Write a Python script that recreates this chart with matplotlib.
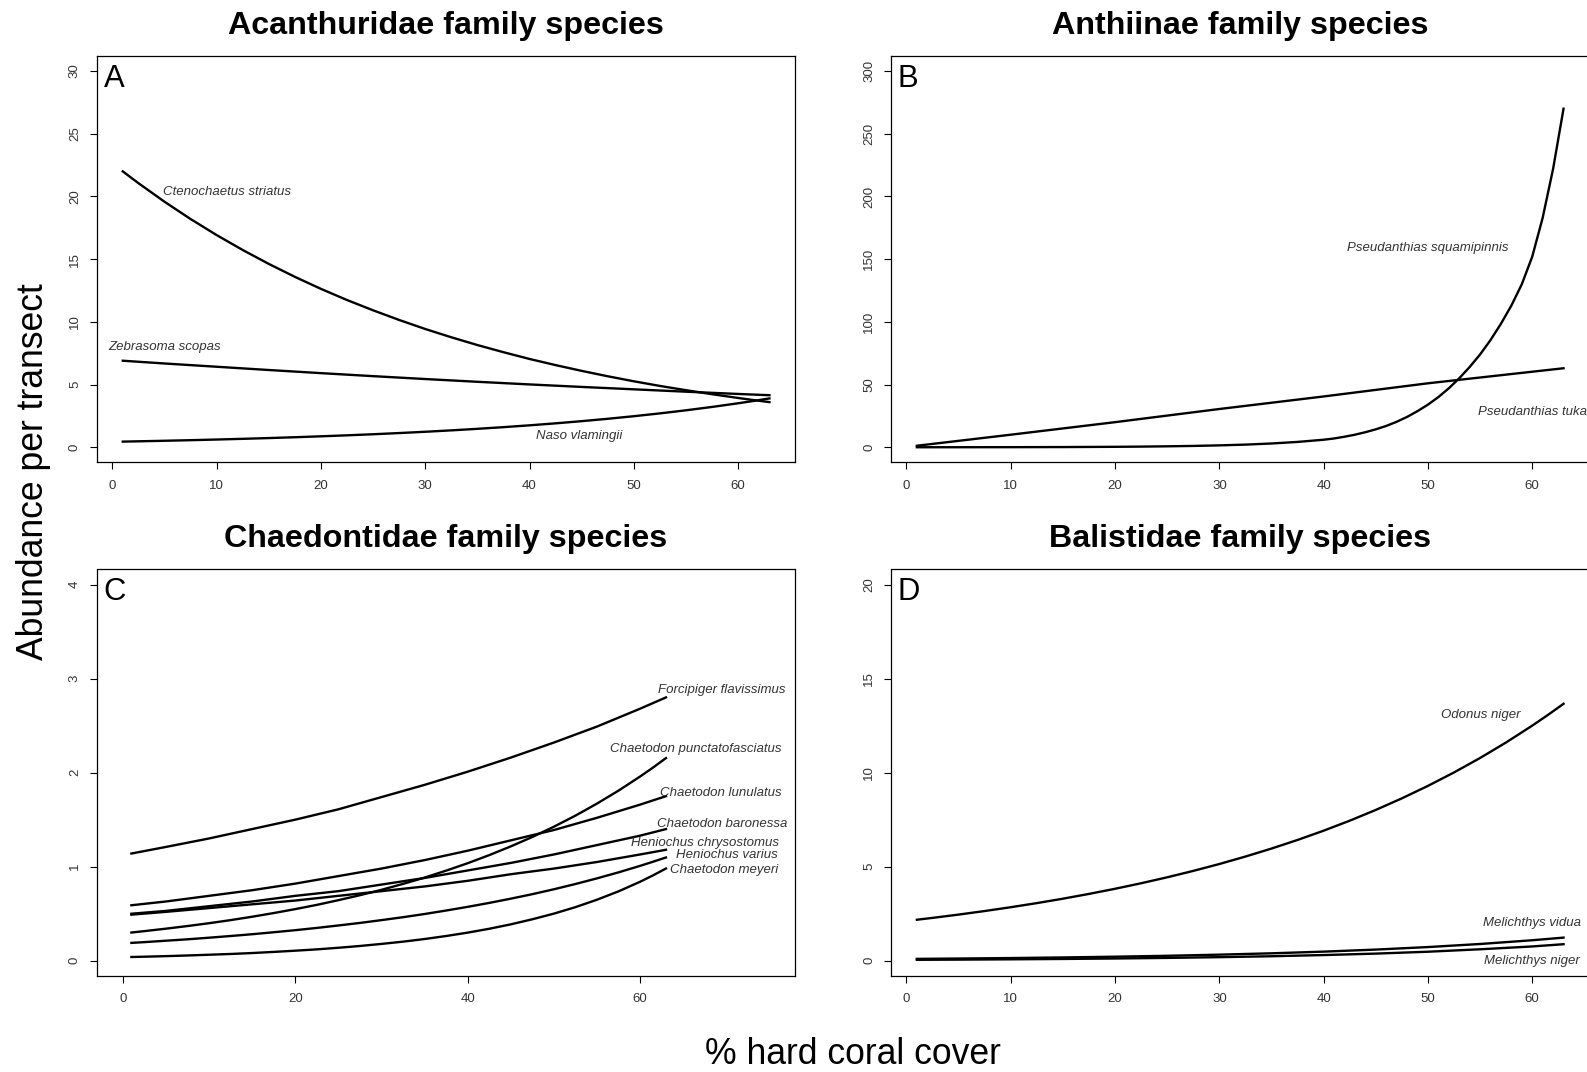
import matplotlib
matplotlib.use("Agg")
import matplotlib.pyplot as plt

plt.rcParams["font.family"] = ["Liberation Sans", "DejaVu Sans"]

# ---- data (fitted abundance per transect vs % hard coral cover) ----
cover = [1, 5, 10, 15, 20, 25, 30, 35, 40, 45, 50, 55, 60, 63]
cover_fine = [1, 2.5, 5, 7.5, 10, 12.5, 15, 17.5, 20, 22.5, 25, 27.5, 30, 32.5, 35,
              37.5, 40, 42.5, 45, 47.5, 50, 52.5, 55, 57.5, 60, 61.5, 63]

# A: Acanthuridae
ctenochaetus_striatus = [22.0, 21.06, 19.58, 18.20, 16.92, 15.73, 14.62, 13.59, 12.63, 11.74,
                         10.92, 10.15, 9.43, 8.77, 8.15, 7.58, 7.04, 6.55, 6.09, 5.66, 5.26,
                         4.89, 4.55, 4.23, 3.93, 3.76, 3.60]
zebrasoma_scopas = [6.9, 6.68, 6.42, 6.16, 5.91, 5.67, 5.44, 5.22, 5.01, 4.81, 4.62, 4.43, 4.25, 4.15]
naso_vlamingii = [0.45, 0.474, 0.517, 0.564, 0.616, 0.672, 0.732, 0.799, 0.872, 0.951, 1.037,
                  1.132, 1.235, 1.347, 1.469, 1.603, 1.748, 1.907, 2.081, 2.270, 2.476, 2.701,
                  2.947, 3.215, 3.507, 3.695, 3.893]

# B: Anthiinae
cover_b = [1, 5, 10, 15, 20, 22.5, 25, 27.5, 30, 32.5, 35, 37.5, 40, 41, 42, 43, 44, 45, 46,
           47, 48, 49, 50, 51, 52, 53, 54, 55, 56, 57, 58, 59, 60, 61, 62, 63]
pseudanthias_squamipinnis = [0.0, 0.02, 0.06, 0.15, 0.35, 0.51, 0.75, 1.06, 1.5, 2.1, 3.0, 4.25,
                             6.0, 7.0, 8.4, 10.0, 12.0, 14.3, 17.0, 20.3, 24.2, 28.8, 34.0, 40.0,
                             47.0, 55.0, 64.0, 74.0, 85.5, 98.5, 113.0, 130.0, 152.0, 183.0,
                             222.0, 270.0]
cover_tuka = [1, 10, 20, 30, 40, 50, 63]
pseudanthias_tuka = [1.2, 10.0, 20.0, 30.5, 40.5, 51.0, 63.0]

# C: Chaetodontidae
forcipiger_flavissimus = [1.14, 1.21, 1.30, 1.40, 1.50, 1.61, 1.74, 1.87, 2.01, 2.16, 2.32, 2.49, 2.68, 2.80]
chaetodon_punctatofasciatus = [0.300, 0.315, 0.341, 0.369, 0.399, 0.432, 0.468, 0.507, 0.549,
                               0.594, 0.644, 0.697, 0.754, 0.817, 0.884, 0.958, 1.037, 1.123,
                               1.216, 1.316, 1.425, 1.543, 1.671, 1.809, 1.959, 2.054, 2.155]
chaetodon_lunulatus = [0.59, 0.63, 0.69, 0.75, 0.82, 0.90, 0.98, 1.07, 1.17, 1.28, 1.39, 1.52, 1.66, 1.75]
chaetodon_baronessa = [0.50, 0.53, 0.58, 0.63, 0.69, 0.74, 0.81, 0.88, 0.96, 1.04, 1.13, 1.23, 1.33, 1.40]
heniochus_chrysostomus = [0.49, 0.52, 0.56, 0.60, 0.64, 0.69, 0.74, 0.79, 0.85, 0.92, 0.98, 1.05, 1.13, 1.18]
heniochus_varius = [0.190, 0.198, 0.213, 0.228, 0.245, 0.263, 0.282, 0.303, 0.325, 0.349, 0.375,
                    0.402, 0.432, 0.463, 0.497, 0.534, 0.573, 0.615, 0.660, 0.708, 0.760, 0.816,
                    0.876, 0.940, 1.009, 1.053, 1.098]
chaetodon_meyeri = [0.040, 0.043, 0.049, 0.056, 0.064, 0.072, 0.082, 0.094, 0.107, 0.121, 0.138,
                    0.157, 0.179, 0.203, 0.231, 0.263, 0.299, 0.340, 0.387, 0.441, 0.501, 0.570,
                    0.649, 0.738, 0.840, 0.908, 0.981]

# D: Balistidae
odonus_niger = [2.180, 2.279, 2.454, 2.643, 2.846, 3.064, 3.299, 3.553, 3.826, 4.120, 4.436,
                4.777, 5.143, 5.539, 5.964, 6.422, 6.915, 7.446, 8.018, 8.634, 9.297, 10.011,
                10.780, 11.608, 12.500, 13.067, 13.661]
melichthys_vidua = [0.10, 0.118, 0.144, 0.176, 0.216, 0.264, 0.324, 0.396, 0.485, 0.594, 0.728, 0.891, 1.09, 1.23]
melichthys_niger = [0.05, 0.06, 0.076, 0.095, 0.12, 0.152, 0.191, 0.24, 0.303, 0.38, 0.48, 0.61, 0.76, 0.88]

panels = [
    dict(letter="A", title="Acanthuridae family species", xlim=(1, 63), ylim=(0, 30),
         xticks=range(0, 61, 10), yticks=range(0, 31, 5),
         series=[(cover_fine, ctenochaetus_striatus, "Ctenochaetus striatus", (11.0, 20.37)),
                 (cover, zebrasoma_scopas, "Zebrasoma scopas", (5.0, 7.99)),
                 (cover_fine, naso_vlamingii, "Naso vlamingii", (44.8, 0.92))]),
    dict(letter="B", title="Anthiinae family species", xlim=(1, 63), ylim=(0, 300),
         xticks=range(0, 61, 10), yticks=range(0, 301, 50),
         series=[(cover_b, pseudanthias_squamipinnis, "Pseudanthias squamipinnis", (50.0, 158.6)),
                 (cover_tuka, pseudanthias_tuka, "Pseudanthias tuka", (60.0, 28.4))]),
    dict(letter="C", title="Chaedontidae family species", xlim=(0, 75), ylim=(0, 4),
         xticks=range(0, 61, 20), yticks=range(0, 5),
         series=[(cover, forcipiger_flavissimus, "Forcipiger flavissimus", (69.5, 2.88)),
                 (cover_fine, chaetodon_punctatofasciatus, "Chaetodon punctatofasciatus", (66.5, 2.25)),
                 (cover, chaetodon_lunulatus, "Chaetodon lunulatus", (69.4, 1.78)),
                 (cover, chaetodon_baronessa, "Chaetodon baronessa", (69.5, 1.45)),
                 (cover, heniochus_chrysostomus, "Heniochus chrysostomus", (67.5, 1.25)),
                 (cover_fine, heniochus_varius, "Heniochus varius", (70.1, 1.12)),
                 (cover_fine, chaetodon_meyeri, "Chaetodon meyeri", (69.8, 0.97))]),
    dict(letter="D", title="Balistidae family species", xlim=(1, 63), ylim=(0, 20),
         xticks=range(0, 61, 10), yticks=range(0, 21, 5),
         series=[(cover_fine, odonus_niger, "Odonus niger", (55.1, 13.06)),
                 (cover, melichthys_vidua, "Melichthys vidua", (60.0, 2.0)),
                 (cover, melichthys_niger, "Melichthys niger", (60.0, 0.0))]),
]


def r_range(lo, hi):
    # base-R style 4% padding on each side
    pad = 0.04 * (hi - lo)
    return lo - pad, hi + pad


W, H = 1587, 1072
fig = plt.figure(figsize=(W / 100, H / 100), dpi=100)


def add_axes_px(left, top, width, height):
    return fig.add_axes([left / W, 1 - (top + height) / H, width / W, height / H])


axes = [
    add_axes_px(96.9, 56, 698.4, 406.3),
    add_axes_px(891, 56, 698.4, 406.3),
    add_axes_px(96.9, 569.5, 698.4, 406.3),
    add_axes_px(891, 569.5, 698.4, 406.3),
]

for ax, p in zip(axes, panels):
    for xs, ys, name, (lx, ly) in p["series"]:
        ax.plot(xs, ys, color="black", lw=1.7, solid_joinstyle="round")
        ax.text(lx, ly, name, ha="center", va="center", style="italic",
                fontsize=9.5, color="#333333")

    ax.set_xlim(*r_range(*p["xlim"]))
    ax.set_ylim(*r_range(*p["ylim"]))
    ax.set_xticks(list(p["xticks"]))
    ax.set_yticks(list(p["yticks"]))
    ax.tick_params(direction="out", length=5, width=0.8, labelsize=9.5,
                   labelcolor="#333333", pad=7.5)
    ax.tick_params(axis="y", labelrotation=90, pad=6.5)
    for lab in ax.get_yticklabels():
        lab.set_va("center")
    for spine in ax.spines.values():
        spine.set_linewidth(0.9)

    ax.set_title(p["title"], fontsize=23.25, fontweight="bold", pad=16)
    ax.text(0.0096, 1 - 30.7 / 406.3, p["letter"], transform=ax.transAxes,
            fontsize=22.3, va="baseline", ha="left")

fig.text(33.4 / W, 1 - 471.6 / H, "Abundance per transect", rotation=90,
         ha="center", va="center", fontsize=25.6)
fig.text(853 / W, 1 - 1054.6 / H, "% hard coral cover",
         ha="center", va="center", fontsize=25.6)

fig.savefig("out.png", dpi=100)
